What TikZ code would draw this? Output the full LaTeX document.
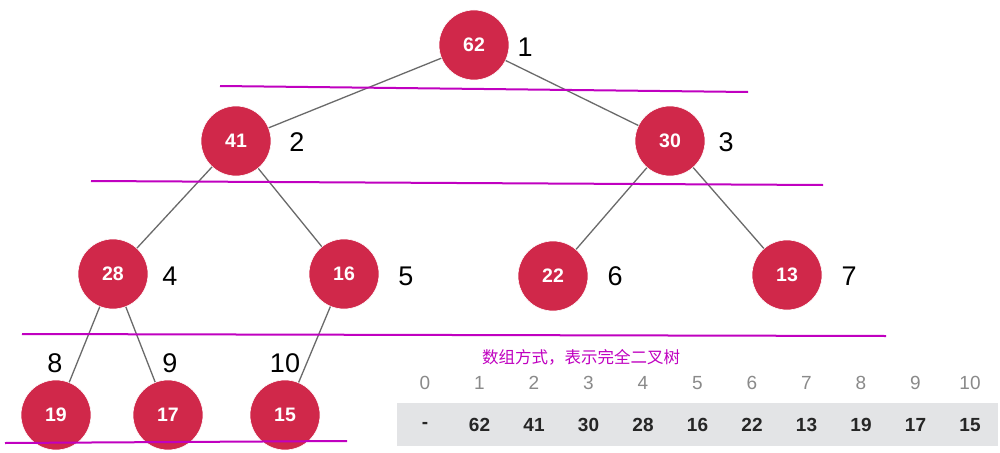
\documentclass[tikz,border=0pt]{standalone}
\usepackage{fontspec}
\setmainfont{Liberation Sans}
\newfontfamily\cjk{Noto Sans CJK SC}
\definecolor{nodered}{HTML}{D0284A}
\definecolor{lvl}{HTML}{C000C0}
\definecolor{edgegray}{HTML}{6A6A6A}
\definecolor{cellgray}{HTML}{E3E4E6}
\definecolor{idxgray}{HTML}{8A8A8A}
\begin{document}
\begin{tikzpicture}[x=1pt,y=-1pt,
  heapnode/.style={circle,fill=nodered,draw=white,line width=0.6pt,minimum size=70pt,inner sep=0pt,text=white,font=\fontsize{19.5}{21}\selectfont\bfseries},
  poslabel/.style={font=\fontsize{27}{30}\selectfont,text=black,inner sep=0pt},
  edge/.style={draw=edgegray,line width=1.3pt},
  level/.style={draw=lvl,line width=2pt},
  idx/.style={font=\fontsize{19}{21}\selectfont,text=idxgray,inner sep=0pt},
  val/.style={font=\fontsize{19}{21}\selectfont\bfseries,text=black!85,inner sep=0pt}]
\useasboundingbox (0,0) rectangle (1000,452);
\fill[white] (0,0) rectangle (1000,452);
% levels
\coordinate (l1a) at (220,86); \coordinate (l1b) at (748,92);
\coordinate (l2a) at (91,181); \coordinate (l2b) at (823,185);
\coordinate (l3a) at (22,334); \coordinate (l3b) at (886,336);
\coordinate (l4a) at (5,443); \coordinate (l4b) at (347,441);
% nodes
\node[heapnode] (n1) at (474,45) {62};
\node[heapnode] (n2) at (236,141) {41};
\node[heapnode] (n3) at (670,141) {30};
\node[heapnode] (n4) at (113,274) {28};
\node[heapnode] (n5) at (344,274) {16};
\node[heapnode] (n6) at (553,276) {22};
\node[heapnode] (n7) at (787,275) {13};
\node[heapnode] (n8) at (56,415) {19};
\node[heapnode] (n9) at (168,415) {17};
\node[heapnode] (n10) at (285,415) {15};
% edges
\draw[edge] (n1) -- (n2);
\draw[edge] (n1) -- (n3);
\draw[edge] (n2) -- (n4);
\draw[edge] (n2) -- (n5);
\draw[edge] (n3) -- (n6);
\draw[edge] (n3) -- (n7);
\draw[edge] (n4) -- (n8);
\draw[edge] (n4) -- (n9);
\draw[edge] (n5) -- (n10);
% level lines
\draw[level] (l1a) -- (l1b);
\draw[level] (l2a) -- (l2b);
\draw[level] (l3a) -- (l3b);
\draw[level] (l4a) -- (l4b);
% position labels
\node[poslabel] (p1) at (525,47) {1};
\node[poslabel] (p2) at (297,142) {2};
\node[poslabel] (p3) at (726,142) {3};
\node[poslabel] (p4) at (170,276) {4};
\node[poslabel] (p5) at (406,276) {5};
\node[poslabel] (p6) at (615,276) {6};
\node[poslabel] (p7) at (849,276) {7};
\node[poslabel] (p8) at (55,363) {8};
\node[poslabel] (p9) at (170,363) {9};
\node[poslabel] (p10) at (285,363) {10};
% array
\node[text=lvl,font=\cjk\fontsize{16.5}{18}\selectfont,inner sep=0pt] (title) at (581,357) {数组方式，表示完全二叉树};
\fill[cellgray] (397,403) rectangle (998,446);
\foreach \i/\v [count=\k from 0] in {0/-,1/62,2/41,3/30,4/28,5/16,6/22,7/13,8/19,9/17,10/15}{
  \node[idx] (i\k) at (425+54.5*\k,383) {\i};
  \node[val] (v\k) at (425+54.5*\k,425) {\v};
}
\end{tikzpicture}
\end{document}
